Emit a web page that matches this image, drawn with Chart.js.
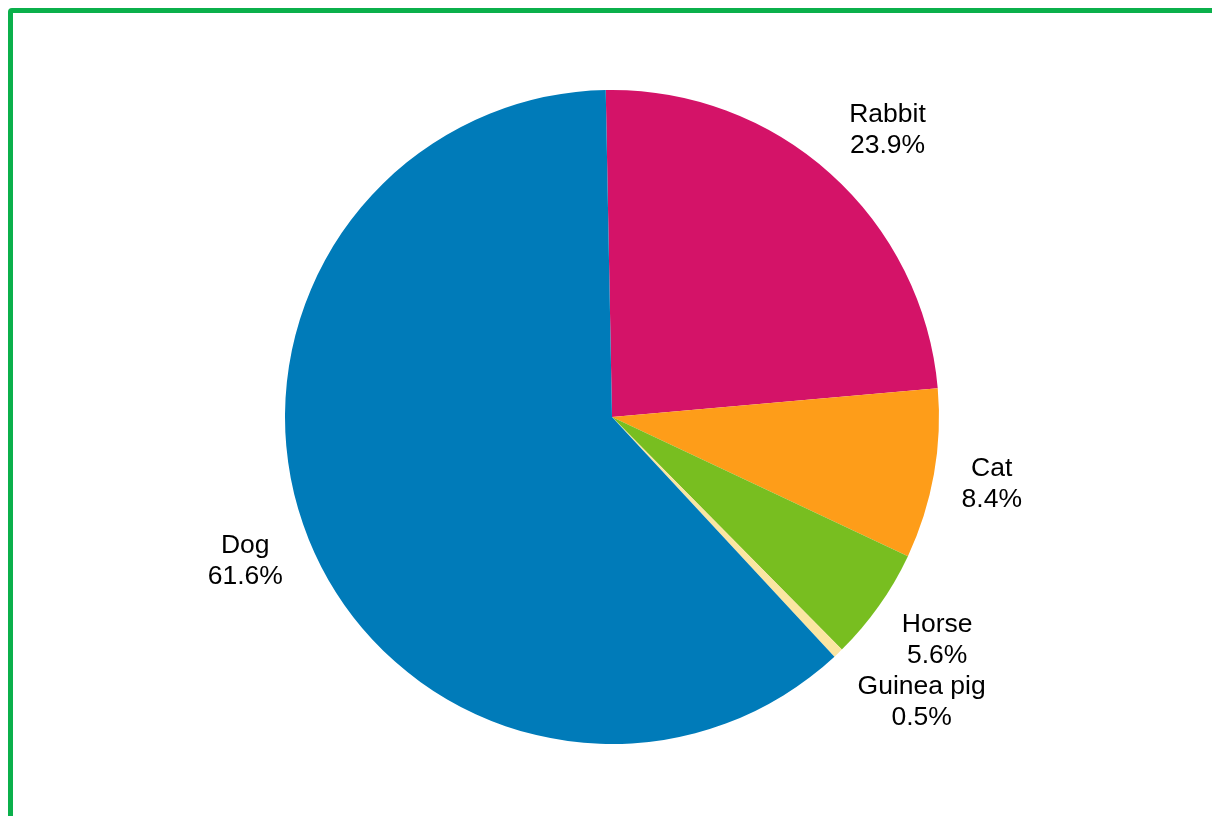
<!DOCTYPE html>
<html>
<head>
<meta charset="utf-8">
<script src="https://cdn.jsdelivr.net/npm/chart.js@4.4.1/dist/chart.umd.min.js"></script>
<style>
  html, body { margin: 0; padding: 0; background: #fff; overflow: hidden; }
  #frame {
    position: absolute; left: 8px; top: 8px; width: 1300px; height: 900px;
    border: 5px solid #0bb04b; border-radius: 4px;
  }
  #wrap { position: absolute; left: 0; top: 0; width: 1212px; height: 816px; }
</style>
</head>
<body>
<div id="frame"></div>
<div id="wrap"><canvas id="myChart" width="1212" height="816"></canvas></div>
<script>
// pets share (percent)
var pets = ['Rabbit', 'Cat', 'Horse', 'Guinea pig', 'Dog'];
var shares = [23.9, 8.4, 5.6, 0.5, 61.6];
var sliceColors = ['#d41368', '#fe9d19', '#78be20', '#fbe6a2', '#007bb9'];

// two-line labels sitting just outside the pie
var outsideLabels = {
  id: 'outsideLabels',
  afterDatasetsDraw: function(chart) {
    var ctx = chart.ctx;
    var meta = chart.getDatasetMeta(0);
    var total = shares.reduce(function(a, b) { return a + b; }, 0);
    var lineH = 31;
    ctx.save();
    ctx.font = '26.5px "Liberation Sans", Arial, sans-serif';
    var boxes = [];
    meta.data.forEach(function(arc, i) {
      var p = arc.getProps(['x', 'y', 'startAngle', 'endAngle', 'outerRadius'], true);
      var mid = (p.startAngle + p.endAngle) / 2;
      var r = p.outerRadius + 28;
      var ax = p.x + Math.cos(mid) * r;
      var ay = p.y + Math.sin(mid) * r;
      var lines = [pets[i], (shares[i] / total * 100).toFixed(1) + '%'];
      var w = Math.max(ctx.measureText(lines[0]).width, ctx.measureText(lines[1]).width);
      var h = lineH * 2;
      var side = Math.cos(mid) >= 0 ? 1 : -1;
      boxes.push({
        lines: lines, w: w, h: h, side: side,
        x: ax + side * w / 2,
        y: ay + Math.sin(mid) * h / 2
      });
    });
    // push overlapping labels apart, top to bottom on each side
    [1, -1].forEach(function(s) {
      var list = boxes.filter(function(b) { return b.side === s; })
        .sort(function(a, b) { return a.y - b.y; });
      for (var k = 1; k < list.length; k++) {
        var prev = list[k - 1], cur = list[k];
        var minY = prev.y + prev.h / 2 + cur.h / 2;
        if (cur.y < minY) cur.y = minY;
      }
    });
    ctx.fillStyle = '#000';
    ctx.textAlign = 'center';
    ctx.textBaseline = 'middle';
    boxes.forEach(function(b) {
      ctx.fillText(b.lines[0], b.x, b.y - lineH / 2);
      ctx.fillText(b.lines[1], b.x, b.y + lineH / 2);
    });
    ctx.restore();
  }
};

var ctx = document.getElementById('myChart').getContext('2d');
var chart = new Chart(ctx, {
  type: 'pie',
  data: {
    labels: pets,
    datasets: [{
      data: shares,
      backgroundColor: sliceColors,
      borderWidth: 0,
      hoverOffset: 0,
      offset: 0
    }]
  },
  options: {
    responsive: false,
    animation: false,
    rotation: -1.1,
    layout: { padding: { top: 90, bottom: 72, left: 12, right: 0 } },
    plugins: {
      legend: { display: false },
      tooltip: { enabled: false }
    }
  },
  plugins: [outsideLabels]
});
</script>
</body>
</html>
